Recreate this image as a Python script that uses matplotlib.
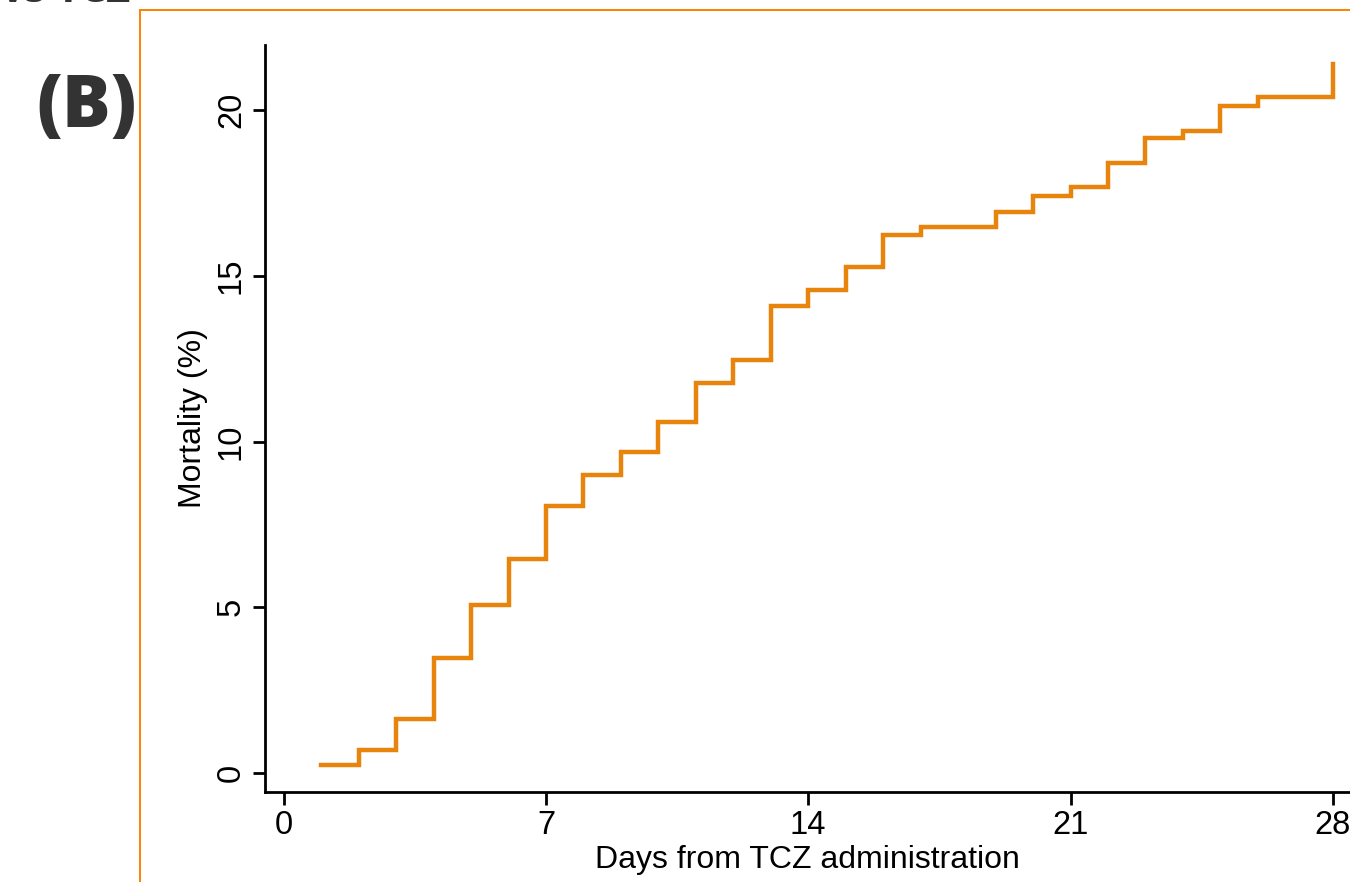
import matplotlib
matplotlib.use("Agg")
import matplotlib.pyplot as plt
from matplotlib.patches import Rectangle

plt.rcParams["font.family"] = ["Liberation Sans", "DejaVu Sans"]

# cumulative mortality (%) by day after TCZ administration
days = list(range(1, 29))
mortality = [0.24, 0.69, 1.63, 3.47, 5.07, 6.46, 8.05, 8.99, 9.68, 10.60,
             11.76, 12.47, 14.10, 14.57, 15.27, 16.23, 16.47, 16.47, 16.93,
             17.42, 17.68, 18.40, 19.14, 19.38, 20.12, 20.38, 20.38, 21.39]
x_ticks = [0, 7, 14, 21, 28]
y_ticks = [0, 5, 10, 15, 20]

ORANGE = "#E8830C"

fig = plt.figure(figsize=(13.5, 8.82), dpi=100)

# thin orange panel border (cropped at the right and bottom)
fig.patches.append(Rectangle((140 / 1350, -0.05), 1.0, 1.05 - 10 / 882,
                             transform=fig.transFigure, fill=False,
                             edgecolor="#FF8000", linewidth=1.4))

ax = fig.add_axes([265 / 1350, 90 / 882, 1085 / 1350, 747 / 882])
ax.step(days, mortality, where="post", color=ORANGE, linewidth=3.2,
        solid_joinstyle="miter")

ax.set_xlim(-0.5, 28.46)
ax.set_ylim(-0.57, 21.96)
ax.set_xticks(x_ticks)
ax.set_yticks(y_ticks)
ax.tick_params(axis="both", length=9, width=2, labelsize=23.5, direction="out",
               color="black", pad=4)
plt.setp(ax.get_yticklabels(), rotation=90, va="center")

for side in ("top", "right"):
    ax.spines[side].set_visible(False)
for side in ("left", "bottom"):
    ax.spines[side].set_linewidth(2)
    ax.spines[side].set_color("black")

ax.set_xlabel("Days from TCZ administration", fontsize=23, labelpad=3)
ax.set_ylabel("Mortality (%)", fontsize=23, labelpad=6)

fig.text(87 / 1350, 1 - 108 / 882, "(B)", fontsize=52, fontweight="heavy",
         family=["Open Sans", "DejaVu Sans"], color="#333333",
         ha="center", va="center")
fig.text(130 / 1350, 1 - 2 / 882, "vs TCZ", fontsize=30, fontweight="bold",
         family=["Open Sans", "DejaVu Sans"], color="#333333",
         ha="right", va="baseline")

fig.savefig("out.png", dpi=100)
